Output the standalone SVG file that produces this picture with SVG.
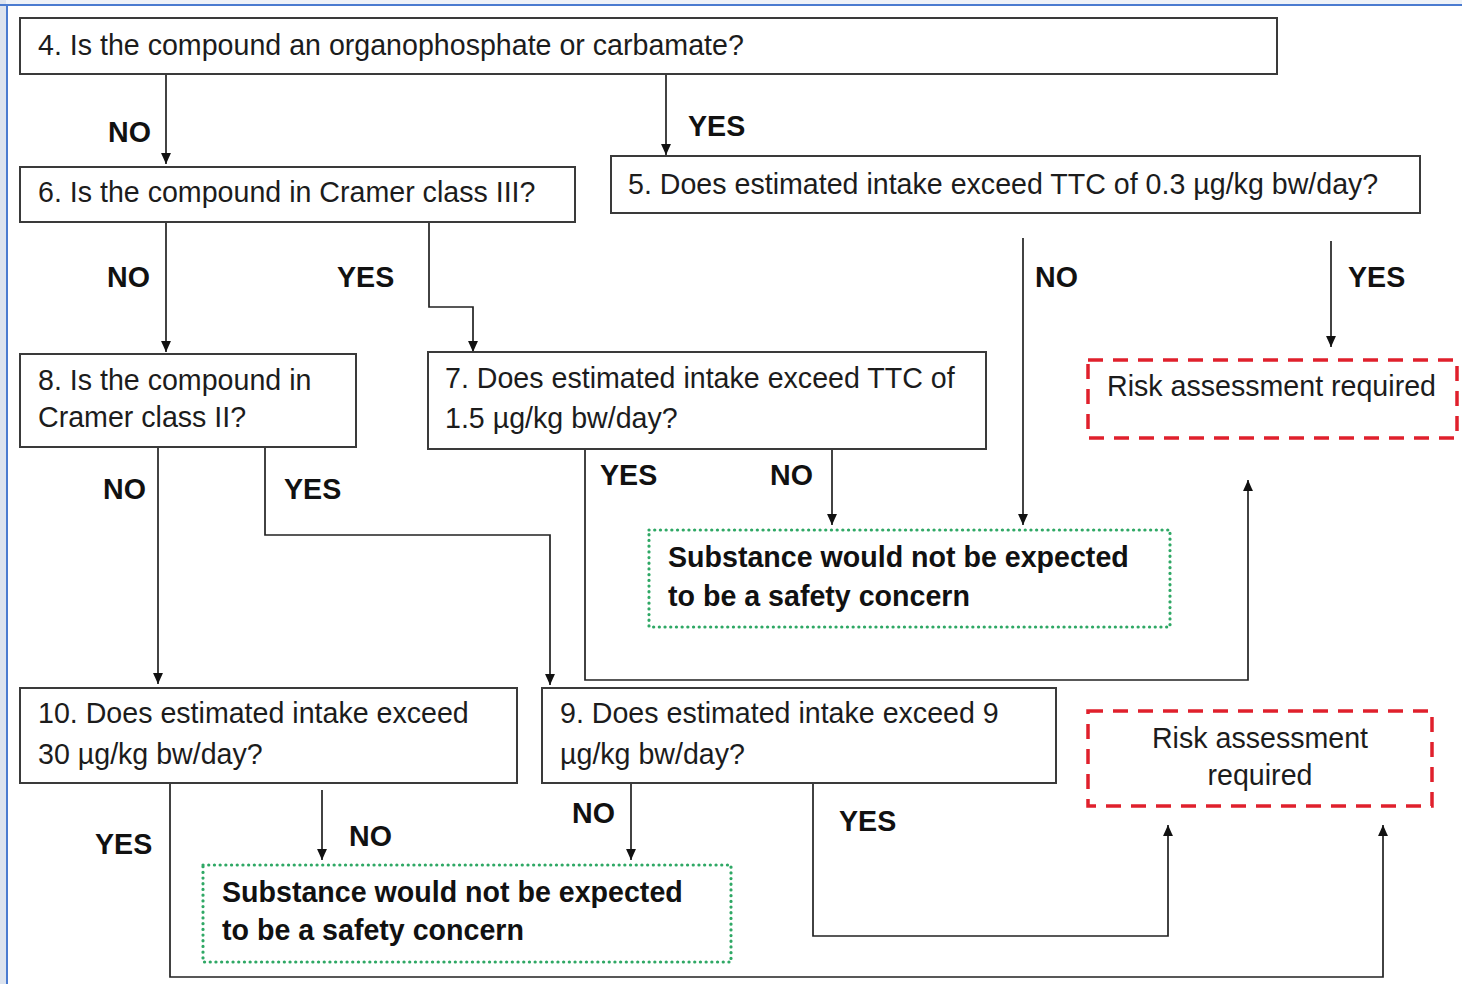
<svg xmlns="http://www.w3.org/2000/svg" width="1462" height="984" viewBox="0 0 1462 984">
  <defs>
    <style>
      .q { fill: #ffffff; stroke: #3a3a3a; stroke-width: 2; }
      .risk { fill: #ffffff; stroke: #e0202c; stroke-width: 3.5; stroke-dasharray: 15 10; }
      .safe { fill: #ffffff; stroke: #2fa865; stroke-width: 3.2; stroke-dasharray: 0.1 5.6; stroke-linecap: round; }
      .t { font-family: "Liberation Sans", Arial, sans-serif; font-size: 28.6px; fill: #1c1c1c; }
      .b { font-family: "Liberation Sans", Arial, sans-serif; font-size: 28.6px; font-weight: bold; fill: #111111; }
      .c { text-anchor: middle; }
      .link { fill: none; stroke: #222222; stroke-width: 1.7; marker-end: url(#arrow); }
    </style>
    <marker id="arrow" viewBox="0 0 10 10" refX="10" refY="5" markerWidth="12" markerHeight="11" markerUnits="userSpaceOnUse" orient="auto">
      <path d="M0,0.5 L10,5 L0,9.5 z" fill="#111111"/>
    </marker>
  </defs>

  <!-- page frame -->
  <rect x="0" y="0" width="1462" height="984" fill="#ffffff"/>
  <rect x="0" y="0" width="1462" height="4" fill="#eef2f8"/>
  <rect x="0" y="0" width="6" height="984" fill="#dce3ee"/>
  <line x1="0" y1="5" x2="1462" y2="5" stroke="#4a7bd0" stroke-width="2"/>
  <line x1="7" y1="5" x2="7" y2="984" stroke="#4a7bd0" stroke-width="2"/>

  <!-- connectors -->
  <g id="connectors">
    <path class="link" d="M166,74 V164"/>
    <path class="link" d="M666,74 V155"/>
    <path class="link" d="M166,222 V352"/>
    <path class="link" d="M429,222 V307 H473 V352"/>
    <path class="link" d="M1023,238 V525"/>
    <path class="link" d="M1331,241 V347"/>
    <path class="link" d="M832,449 V525"/>
    <path class="link" d="M585,449 V680 H1248 V480"/>
    <path class="link" d="M158,447 V684"/>
    <path class="link" d="M265,447 V535 H550 V685"/>
    <path class="link" d="M631,783 V860"/>
    <path class="link" d="M813,783 V936 H1168 V825"/>
    <path class="link" d="M322,790 V860"/>
    <path class="link" d="M170,783 V977 H1383 V825"/>
  </g>

  <!-- branch labels -->
  <g id="labels">
    <text class="b" x="108" y="142">NO</text>
    <text class="b" x="688" y="136">YES</text>
    <text class="b" x="107" y="287">NO</text>
    <text class="b" x="337" y="287">YES</text>
    <text class="b" x="1035" y="287">NO</text>
    <text class="b" x="1348" y="287">YES</text>
    <text class="b" x="103" y="499">NO</text>
    <text class="b" x="284" y="499">YES</text>
    <text class="b" x="600" y="485">YES</text>
    <text class="b" x="770" y="485">NO</text>
    <text class="b" x="95" y="854">YES</text>
    <text class="b" x="349" y="846">NO</text>
    <text class="b" x="572" y="823">NO</text>
    <text class="b" x="839" y="831">YES</text>
  </g>

  <g id="q4">
    <rect class="q" x="20" y="18" width="1257" height="56"/>
    <text class="t" x="38" y="55">4. Is the compound an organophosphate or carbamate?</text>
  </g>

  <g id="q6">
    <rect class="q" x="20" y="167" width="555" height="55"/>
    <text class="t" x="38" y="202">6. Is the compound in Cramer class III?</text>
  </g>

  <g id="q5">
    <rect class="q" x="611" y="156" width="809" height="57"/>
    <text class="t" x="628" y="194">5. Does estimated intake exceed TTC of 0.3 µg/kg bw/day?</text>
  </g>

  <g id="q8">
    <rect class="q" x="20" y="354" width="336" height="93"/>
    <text class="t" x="38" y="390">8. Is the compound in</text>
    <text class="t" x="38" y="427">Cramer class II?</text>
  </g>

  <g id="q7">
    <rect class="q" x="428" y="352" width="558" height="97"/>
    <text class="t" x="445" y="388">7. Does estimated intake exceed TTC of</text>
    <text class="t" x="445" y="428">1.5 µg/kg bw/day?</text>
  </g>

  <g id="risk1">
    <rect class="risk" x="1088" y="360" width="369" height="78"/>
    <text class="t" x="1107" y="396">Risk assessment required</text>
  </g>

  <g id="safe1">
    <rect class="safe" x="649" y="530" width="521" height="97"/>
    <text class="b" x="668" y="567">Substance would not be expected</text>
    <text class="b" x="668" y="606">to be a safety concern</text>
  </g>

  <g id="q10">
    <rect class="q" x="20" y="688" width="497" height="95"/>
    <text class="t" x="38" y="723">10. Does estimated intake exceed</text>
    <text class="t" x="38" y="764">30 µg/kg bw/day?</text>
  </g>

  <g id="q9">
    <rect class="q" x="542" y="688" width="514" height="95"/>
    <text class="t" x="560" y="723">9. Does estimated intake exceed 9</text>
    <text class="t" x="560" y="764">µg/kg bw/day?</text>
  </g>

  <g id="risk2">
    <rect class="risk" x="1088" y="711" width="344" height="95"/>
    <text class="t c" x="1260" y="748">Risk assessment</text>
    <text class="t c" x="1260" y="785">required</text>
  </g>

  <g id="safe2">
    <rect class="safe" x="203" y="865" width="528" height="97"/>
    <text class="b" x="222" y="902">Substance would not be expected</text>
    <text class="b" x="222" y="940">to be a safety concern</text>
  </g>
</svg>
